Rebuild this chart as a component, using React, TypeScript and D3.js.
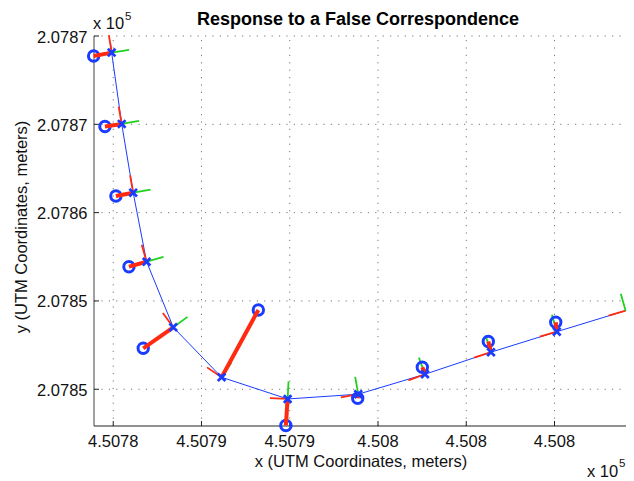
import React from 'react';
import * as d3 from 'd3';

const W = 634;
const H = 481;

// Axis ticks (meters) and their printed labels (x 10^5)
const xTicks = [450780, 450785, 450790, 450795, 450800, 450805];
const xTickLabels = ['4.5078', '4.5079', '4.5079', '4.508', '4.508', '4.508'];
const yTicks = [207850, 207855, 207860, 207865, 207870];
const yTickLabels = ['2.0785', '2.0785', '2.0786', '2.0787', '2.0787'];
const xDomain = [450778.91, 450809.05];
const yDomain = [207847.92, 207870.0];

// Estimated trajectory (poses)
const trajX = [450779.84, 450779.91, 450780.48, 450781.13, 450781.89, 450783.4, 450786.14, 450789.88, 450793.88, 450797.66, 450801.4, 450805.13, 450809.03];
const trajY = [207869.66, 207869.06, 207865.02, 207861.13, 207857.22, 207853.51, 207850.68, 207849.45, 207849.72, 207850.85, 207852.1, 207853.26, 207854.45];
// Heading of each pose (degrees), null = no axes drawn
const heading = [null, 99, 100, 100, 106, 126, 146, 177, 190, 200, 198, 196, 196];
// Which poses carry an x marker
const hasMarker = [false, true, true, true, true, true, true, true, true, true, true, true, false];

// Measurements (circles) and the pose each one is associated with
const measX = [450778.89, 450779.53, 450780.15, 450780.89, 450781.7, 450788.22, 450789.78, 450793.85, 450797.51, 450801.25, 450805.07];
const measY = [207868.87, 207864.88, 207860.94, 207856.94, 207852.32, 207854.49, 207847.95, 207849.49, 207851.25, 207852.7, 207853.79];
const measPose = [1, 2, 3, 4, 5, 6, 7, 8, 9, 10, 11];

const axisLen = 1.0; // meters

const FONT = '"Liberation Sans", Arial, Helvetica, sans-serif';
const BLUE = '#1a3cff';
const RED = '#ff2a10';
const GREEN = '#1ed21e';

export default function App() {
  const x = d3.scaleLinear().domain(xDomain).range([94, 626]);
  const y = d3.scaleLinear().domain(yDomain).range([426, 36]);
  const [x0, x1] = x.range();
  const [y0, y1] = y.range();

  const pts = trajX.map((v, i) => [v, trajY[i]] as [number, number]);
  const line = d3.line<[number, number]>().x(d => x(d[0])).y(d => y(d[1]));

  const tickLen = 5;

  return (
    <svg width={W} height={H} style={{ position: 'absolute', left: 0, top: 0, background: '#fff' }} fontFamily={FONT}>
      <rect x={0} y={0} width={W} height={H} fill="#fff" />
      {/* grid */}
      {xTicks.map((t, i) => (
        <line key={'gx' + i} x1={x(t)} x2={x(t)} y1={y0} y2={y1} stroke="#777" strokeWidth={1} strokeDasharray="1.2 6.2" />
      ))}
      {yTicks.map((t, i) => (
        <line key={'gy' + i} x1={x0} x2={x1} y1={y(t)} y2={y(t)} stroke="#777" strokeWidth={1} strokeDasharray="1.2 6.2" />
      ))}
      {/* axes */}
      <line x1={x0} x2={x1} y1={y0} y2={y0} stroke="#222" strokeWidth={1} />
      <line x1={x0} x2={x0} y1={y0} y2={y1} stroke="#444" strokeWidth={1} />
      {xTicks.map((t, i) => (
        <g key={'tx' + i}>
          <line x1={x(t)} x2={x(t)} y1={y0} y2={y0 - tickLen} stroke="#222" />
          <text x={x(t)} y={446.5} fontSize={16.5} textAnchor="middle" fill="#111">{xTickLabels[i]}</text>
        </g>
      ))}
      {yTicks.map((t, i) => (
        <g key={'ty' + i}>
          <line x1={x0} x2={x0 + tickLen} y1={y(t)} y2={y(t)} stroke="#222" />
          <text x={87.5} y={y(t) + 6.5} fontSize={16.5} textAnchor="end" fill="#111">{yTickLabels[i]}</text>
        </g>
      ))}
      {/* exponent labels */}
      <text x={93} y={28.5} fontSize={16.5} fill="#111">x 10</text>
      <text x={125} y={20} fontSize={11.5} fill="#111">5</text>
      <text x={587} y={476.5} fontSize={16.5} fill="#111">x 10</text>
      <text x={619} y={466.5} fontSize={11.5} fill="#111">5</text>
      {/* titles */}
      <text x={358} y={25} fontSize={18} fontWeight="bold" textAnchor="middle" fill="#000">Response to a False Correspondence</text>
      <text x={361} y={467} fontSize={16.5} textAnchor="middle" fill="#111">x (UTM Coordinates, meters)</text>
      <text transform={`translate(27,227) rotate(-90)`} fontSize={16.5} textAnchor="middle" fill="#111">y (UTM Coordinates, meters)</text>

      {/* trajectory */}
      <path d={line(pts) || ''} fill="none" stroke={BLUE} strokeWidth={1} />
      {/* pose axes */}
      {pts.map((p, i) => {
        const h = heading[i];
        if (h === null) return null;
        const a = (h * Math.PI) / 180;
        const g = a - Math.PI / 2;
        return (
          <g key={'ax' + i}>
            <line x1={x(p[0])} y1={y(p[1])} x2={x(p[0] + axisLen * Math.cos(a))} y2={y(p[1] + axisLen * Math.sin(a))} stroke={RED} strokeWidth={1.8} />
            <line x1={x(p[0])} y1={y(p[1])} x2={x(p[0] + axisLen * Math.cos(g))} y2={y(p[1] + axisLen * Math.sin(g))} stroke={GREEN} strokeWidth={1.8} />
          </g>
        );
      })}
      {/* measurement circles */}
      {measX.map((mx, i) => (
        <circle key={'c' + i} cx={x(mx)} cy={y(measY[i])} r={5.2} fill="none" stroke={BLUE} strokeWidth={3} />
      ))}
      {/* correspondences */}
      {measX.map((mx, i) => {
        const p = pts[measPose[i]];
        return <line key={'cr' + i} x1={x(mx)} y1={y(measY[i])} x2={x(p[0])} y2={y(p[1])} stroke={RED} strokeWidth={4} />;
      })}
      {/* x markers */}
      {pts.map((p, i) => {
        if (!hasMarker[i]) return null;
        const cx = x(p[0]);
        const cy = y(p[1]);
        const s = 3.8;
        return (
          <path key={'m' + i} d={`M${cx - s},${cy - s}L${cx + s},${cy + s}M${cx - s},${cy + s}L${cx + s},${cy - s}`} stroke={BLUE} strokeWidth={2.7} fill="none" />
        );
      })}
    </svg>
  );
}
